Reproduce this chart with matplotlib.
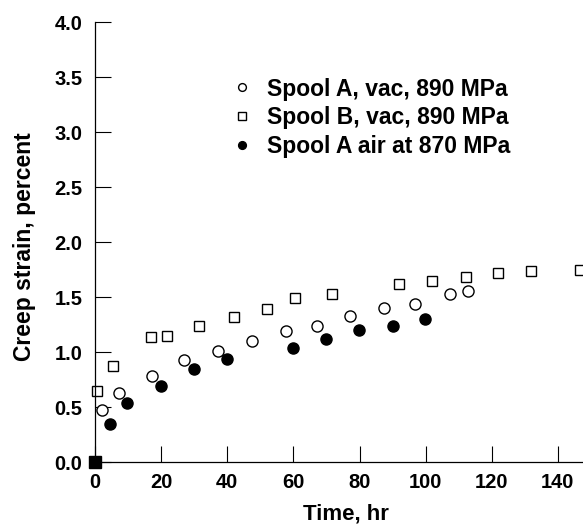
import matplotlib
matplotlib.use('Agg')
import matplotlib.pyplot as plt

plt.rcParams['font.family'] = ['Liberation Sans', 'DejaVu Sans']
plt.rcParams['font.weight'] = 'bold'

# Spool A, vacuum, 890 MPa (open circles)
time_a_vac = [2.0, 7.4, 17.2, 27.0, 37.3, 47.4, 57.8, 67.2, 77.1, 87.3, 96.9, 107.5, 112.9]
strain_a_vac = [0.47, 0.63, 0.78, 0.93, 1.01, 1.10, 1.19, 1.24, 1.33, 1.40, 1.44, 1.53, 1.56]

# Spool B, vacuum, 890 MPa (open squares)
time_b_vac = [0.6, 5.3, 16.9, 21.7, 31.4, 42.1, 52.1, 60.5, 71.6, 91.9, 102.0, 112.1, 122.0, 132.0, 146.7]
strain_b_vac = [0.65, 0.87, 1.14, 1.15, 1.24, 1.32, 1.39, 1.49, 1.53, 1.62, 1.65, 1.68, 1.72, 1.74, 1.75]

# Spool A, air, 870 MPa (filled circles)
time_a_air = [4.5, 9.7, 19.9, 29.9, 39.8, 60.0, 69.8, 79.8, 90.0, 99.8]
strain_a_air = [0.345, 0.54, 0.69, 0.85, 0.94, 1.04, 1.12, 1.20, 1.24, 1.30]

# start point (all spools)
time_start = [0]
strain_start = [0]

xticks = [0, 20, 40, 60, 80, 100, 120, 140]
yticks = [0.0, 0.5, 1.0, 1.5, 2.0, 2.5, 3.0, 3.5, 4.0]

fig = plt.figure(figsize=(5.83, 5.27), dpi=100)
ax = fig.add_axes([0.163, 0.123, 0.837, 0.835])

ax.plot(time_a_vac, strain_a_vac, 'o', ms=8, mfc='white', mec='black', mew=1.0,
        clip_on=False, label='Spool A, vac, 890 MPa')
ax.plot(time_b_vac, strain_b_vac, 's', ms=7.5, mfc='white', mec='black', mew=1.0,
        clip_on=False, label='Spool B, vac, 890 MPa')
ax.plot(time_a_air, strain_a_air, 'o', ms=8, mfc='black', mec='black',
        clip_on=False, label='Spool A air at 870 MPa')
ax.plot(time_start, strain_start, 's', ms=8, color='black', clip_on=False, zorder=5)

ax.set_xlim(0, 147.6)
ax.set_ylim(0, 4.0)
ax.set_xticks(xticks)
ax.set_yticks(yticks)
ax.set_yticklabels([f'{v:.1f}' for v in yticks])

ax.spines['top'].set_visible(False)
ax.spines['right'].set_visible(False)
ax.spines['left'].set_linewidth(0.9)
ax.spines['bottom'].set_linewidth(0.9)
ax.tick_params(direction='in', length=11.5, width=0.8, labelsize=14.5)
ax.tick_params(axis='x', pad=8)
ax.tick_params(axis='y', pad=9)
for lab in ax.get_xticklabels() + ax.get_yticklabels():
    lab.set_fontweight('bold')

ax.set_xlabel('Time, hr', fontsize=16, fontweight='bold')
ax.xaxis.set_label_coords(0.515, -0.095)
ax.set_ylabel('Creep strain, percent', fontsize=16.5, fontweight='bold')
ax.yaxis.set_label_coords(-0.121, 0.489)

leg = ax.legend(loc='upper left', bbox_to_anchor=(0.263, 0.895), frameon=False,
                fontsize=16.5, handletextpad=0.7, labelspacing=0.25,
                borderaxespad=0, handlelength=0.8, markerscale=0.7)
for t in leg.get_texts():
    t.set_fontweight('bold')

fig.savefig('out.png', dpi=100)
